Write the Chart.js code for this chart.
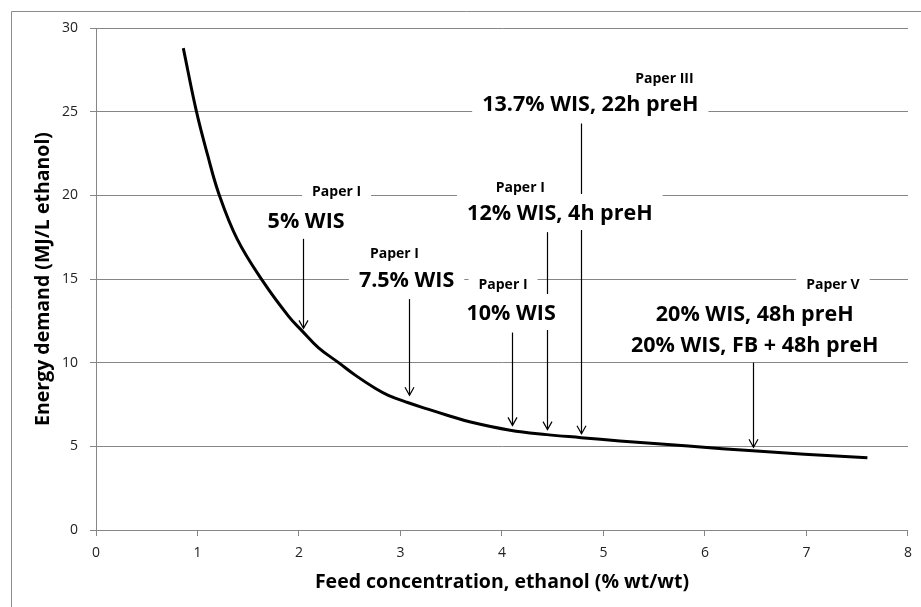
<!DOCTYPE html>
<html>
<head>
<meta charset="utf-8">
<script src="https://cdn.jsdelivr.net/npm/chart.js@4.4.1/dist/chart.umd.min.js"></script>
<style>
  html, body { margin: 0; padding: 0; background: #ffffff; }
  #wrap { width: 921px; height: 607px; position: relative; }
</style>
</head>
<body>
<div id="wrap"><canvas id="c" width="921" height="607"></canvas></div>
<script>
// ---- Data ----
const feedConc = [0.86, 0.99, 1.10, 1.21, 1.39, 1.64, 1.90, 2.03, 2.19, 2.39, 2.55, 2.75, 2.88, 3.07, 3.27, 3.46, 3.69, 4.08, 4.44, 4.78, 5.16, 5.50, 6.17, 6.47, 6.98, 7.60];
const energyDemand = [28.8, 25.0, 22.4, 20.1, 17.4, 14.9, 12.75, 11.9, 10.9, 10.0, 9.27, 8.47, 8.05, 7.62, 7.22, 6.86, 6.45, 5.96, 5.70, 5.52, 5.32, 5.17, 4.86, 4.74, 4.53, 4.32];

const xTicks = [0, 1, 2, 3, 4, 5, 6, 7, 8];
const yTicks = [0, 5, 10, 15, 20, 25, 30];

// arrows (x, start value, tip value) in data units
const arrowX    = [2.04, 3.08, 4.10, 4.44, 4.78, 6.47];
const arrowFrom = [17.4, 13.8, 11.8, 17.8, 24.3, 10.0];
const arrowTo   = [12.05, 8.05, 6.25, 6.0, 5.75, 4.95];

// annotation texts and their anchors in data units
const labelText = ['Paper I', '5% WIS', 'Paper I', '7.5% WIS', 'Paper I', '10% WIS', 'Paper I', '12% WIS, 4h preH', 'Paper III', '13.7% WIS, 22h preH', 'Paper V', '20% WIS, 48h preH', '20% WIS, FB + 48h preH'];
const labelX    = [2.37, 2.07, 2.94, 3.06, 4.01, 4.09, 4.18, 4.57, 5.60, 4.87, 7.26, 6.49, 6.49];
const labelY    = [20.26, 18.46, 16.55, 14.94, 14.70, 12.97, 20.50, 18.95, 27.02, 25.46, 14.70, 12.90, 11.05];
const labelKind = ['small', 'big', 'small', 'big', 'small', 'big', 'small', 'big', 'small', 'big', 'small', 'big', 'big'];

const xTitle = 'Feed concentration, ethanol (% wt/wt)';
const yTitle = 'Energy demand (MJ/L ethanol)';

// ---- Styling ----
const FONT = '"Open Sans", "Noto Sans", sans-serif';
const GRID = '#868686';
const BIG = 21.5, SMALL = 14, AXT = 19.5;

const backgroundPlugin = {
  id: 'bgFrame',
  beforeDraw(chart) {
    const ctx = chart.ctx;
    ctx.save();
    ctx.fillStyle = '#ffffff';
    ctx.fillRect(0, 0, chart.width, chart.height);
    ctx.strokeStyle = '#8c8c8c';
    ctx.lineWidth = 1;
    ctx.beginPath();
    ctx.moveTo(11.5, chart.height + 5);
    ctx.lineTo(11.5, 11.5);
    ctx.lineTo(chart.width + 5, 11.5);
    ctx.stroke();
    ctx.restore();
  }
};

const annotationPlugin = {
  id: 'annots',
  afterDatasetsDraw(chart) {
    const ctx = chart.ctx;
    const xs = chart.scales.x, ys = chart.scales.y;
    ctx.save();
    // arrows
    ctx.strokeStyle = '#000000';
    ctx.lineWidth = 1.2;
    for (let i = 0; i < arrowX.length; i++) {
      const px = Math.round(xs.getPixelForValue(arrowX[i])) + 0.5;
      const y0 = ys.getPixelForValue(arrowFrom[i]);
      const y1 = ys.getPixelForValue(arrowTo[i]);
      ctx.beginPath();
      ctx.moveTo(px, y0);
      ctx.lineTo(px, y1);
      ctx.stroke();
      ctx.beginPath();
      ctx.moveTo(px - 4.5, y1 - 8);
      ctx.lineTo(px, y1);
      ctx.lineTo(px + 4.5, y1 - 8);
      ctx.stroke();
    }
    // labels with white boxes
    ctx.textAlign = 'center';
    ctx.textBaseline = 'middle';
    for (let i = 0; i < labelText.length; i++) {
      const big = labelKind[i] === 'big';
      ctx.font = 'bold ' + (big ? BIG : SMALL) + 'px ' + FONT;
      const w = ctx.measureText(labelText[i]).width;
      const cx = xs.getPixelForValue(labelX[i]);
      const cy = Math.round(ys.getPixelForValue(labelY[i]));
      const top = big ? cy - 19 : cy - 10;
      const bottom = big ? cy + 17 : cy + 10;
      ctx.fillStyle = '#ffffff';
      ctx.fillRect(cx - w / 2 - 10, top, w + 20, bottom - top);
    }
    for (let i = 0; i < labelText.length; i++) {
      const big = labelKind[i] === 'big';
      ctx.font = 'bold ' + (big ? BIG : SMALL) + 'px ' + FONT;
      const cx = xs.getPixelForValue(labelX[i]);
      const cy = ys.getPixelForValue(labelY[i]);
      ctx.fillStyle = '#000000';
      ctx.fillText(labelText[i], cx, cy + 1);
    }
    ctx.restore();
  }
};

const points = feedConc.map((x, i) => ({ x: x, y: energyDemand[i] }));

new Chart(document.getElementById('c'), {
  type: 'scatter',
  data: {
    datasets: [{
      label: 'Energy demand',
      data: points,
      showLine: true,
      borderColor: '#000000',
      borderWidth: 3,
      pointRadius: 0,
      pointHoverRadius: 0,
      tension: 0.4,
      fill: false
    }]
  },
  options: {
    responsive: false,
    devicePixelRatio: 1,
    animation: false,
    events: [],
    layout: { padding: { top: 28, right: 7, left: 0, bottom: 0 } },
    plugins: {
      legend: { display: false },
      tooltip: { enabled: false },
      title: { display: false }
    },
    scales: {
      x: {
        type: 'linear',
        min: xTicks[0],
        max: xTicks[xTicks.length - 1],
        afterBuildTicks(scale) { scale.ticks = xTicks.map(v => ({ value: v })); },
        afterFit(scale) { scale.height = 77; },
        grid: { drawOnChartArea: false, drawTicks: true, tickLength: 6, color: GRID, lineWidth: 1 },
        border: { display: true, color: GRID, width: 1 },
        ticks: { color: '#222222', font: { family: FONT, size: 14 }, padding: 9, maxRotation: 0 },
        title: { display: true, text: xTitle, color: '#000000', font: { family: FONT, size: AXT, weight: 'bold' }, padding: { top: 0, bottom: 13 } }
      },
      y: {
        type: 'linear',
        min: yTicks[0],
        max: yTicks[yTicks.length - 1],
        afterBuildTicks(scale) { scale.ticks = yTicks.map(v => ({ value: v })); },
        afterFit(scale) { scale.width = 96; },
        grid: { drawOnChartArea: true, drawTicks: true, tickLength: 6, color: GRID, lineWidth: 1 },
        border: { display: true, color: GRID, width: 1 },
        ticks: { color: '#222222', font: { family: FONT, size: 14 }, padding: 12 },
        title: { display: true, text: yTitle, color: '#000000', font: { family: FONT, size: AXT, weight: 'bold' }, padding: { top: 32, bottom: 0 } }
      }
    }
  },
  plugins: [backgroundPlugin, annotationPlugin]
});
</script>
</body>
</html>
